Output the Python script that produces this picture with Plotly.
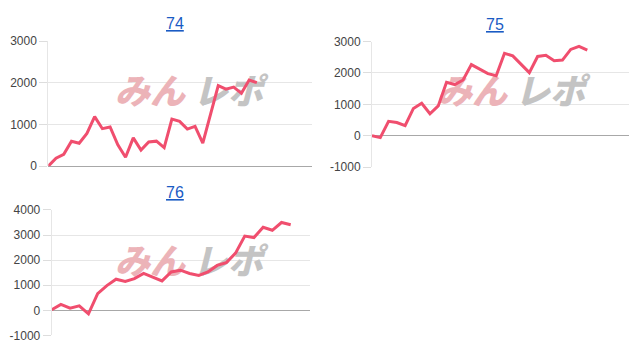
import plotly.graph_objects as go

W, H = 644, 354

titles = ["74", "75", "76"]
vals74 = [0, 190, 285, 600, 550, 785, 1190, 900, 940, 510, 215, 680, 385, 580, 600, 445,
          1130, 1075, 890, 955, 555, 1250, 1935, 1850, 1900, 1750, 2070, 2005]
vals75 = [0, -60, 460, 420, 320, 870, 1035, 700, 950, 1700, 1630, 1775, 2265, 2120, 1980,
          1910, 2625, 2545, 2290, 2010, 2525, 2565, 2390, 2410, 2750, 2850, 2730]
vals76 = [25, 240, 90, 180, -140, 665, 985, 1240, 1150, 1265, 1470, 1330, 1175, 1530, 1600,
          1470, 1390, 1530, 1790, 1900, 2280, 2960, 2900, 3310, 3190, 3500, 3410]
series = [vals74, vals75, vals76]
xmax = [34.1, 31.0, 28.1]
yranges = [[0, 3000], [-1000, 3000], [-1000, 4000]]
ytickvals = [[0, 1000, 2000, 3000], [-1000, 0, 1000, 2000, 3000],
             [-1000, 0, 1000, 2000, 3000, 4000]]

# plot areas in pixels: left, right, top, bottom
boxes = [(48.3, 311.7, 35.7, 165.7), (372.0, 628.7, 36.0, 166.7), (51.7, 310.0, 211.3, 342.0)]
cells = [(0, 0), (322, 0), (0, 177)]
title_pos = [(175.5, 17), (495, 18), (175, 193)]

LINE = "#f04e6e"
fig = go.Figure()

for i in range(3):
    xa = "x" if i == 0 else f"x{i+1}"
    ya = "y" if i == 0 else f"y{i+1}"
    l, r, t, b = boxes[i]
    x0, x1 = 0, xmax[i]
    y0, y1 = yranges[i]

    def px2data(px, py):
        return (x0 + (px - l) / (r - l) * (x1 - x0),
                y0 + (b - py) / (b - t) * (y1 - y0))

    cx, cy = cells[i]
    for txt, rx, col in [("みん", 150, "#ecb3b8"), ("レポ", 228, "#c4c4c4")]:
        dx, dy = px2data(cx + rx, cy + 92)
        fig.add_trace(go.Scatter(x=[dx], y=[dy], mode="text", text=[txt],
                                 textfont=dict(family="Noto Sans CJK JP", size=35,
                                               color=col, weight=900, style="italic"),
                                 xaxis=xa, yaxis=ya, hoverinfo="skip", showlegend=False))

    fig.add_trace(go.Scatter(x=list(range(len(series[i]))), y=series[i], mode="lines",
                             line=dict(color=LINE, width=3), xaxis=xa, yaxis=ya,
                             showlegend=False))

    xkey = "xaxis" if i == 0 else f"xaxis{i+1}"
    ykey = "yaxis" if i == 0 else f"yaxis{i+1}"
    fig.update_layout({
        xkey: dict(domain=[l / W, r / W], range=[x0, x1], anchor=ya,
                   showgrid=False, zeroline=False, showticklabels=False,
                   showline=False, ticks=""),
        ykey: dict(domain=[1 - b / H, 1 - t / H], range=[y0, y1], anchor=xa,
                   tickvals=ytickvals[i], ticktext=[str(v) for v in ytickvals[i]],
                   showgrid=True, gridcolor="#e6e6e6", gridwidth=1,
                   zeroline=True, zerolinecolor="#a8a8a8", zerolinewidth=1,
                   showline=True, linecolor="#e6e6e6", linewidth=1,
                   ticks="outside", ticklen=8, tickcolor="#dddddd",
                   tickfont=dict(family="Liberation Sans, Arial", size=12, color="#444444")),
    })
    tx, ty = title_pos[i]
    fig.add_annotation(x=tx / W, y=1 - ty / H, xref="paper", yref="paper",
                       text=f"<u>{titles[i]}</u>", showarrow=False,
                       font=dict(family="Liberation Sans, Arial", size=16, color="#1a5bc4"),
                       xanchor="center", yanchor="middle")

fig.update_layout(width=W, height=H, margin=dict(l=0, r=0, t=0, b=0),
                  paper_bgcolor="white", plot_bgcolor="white", showlegend=False)

fig.write_html("out.html")
